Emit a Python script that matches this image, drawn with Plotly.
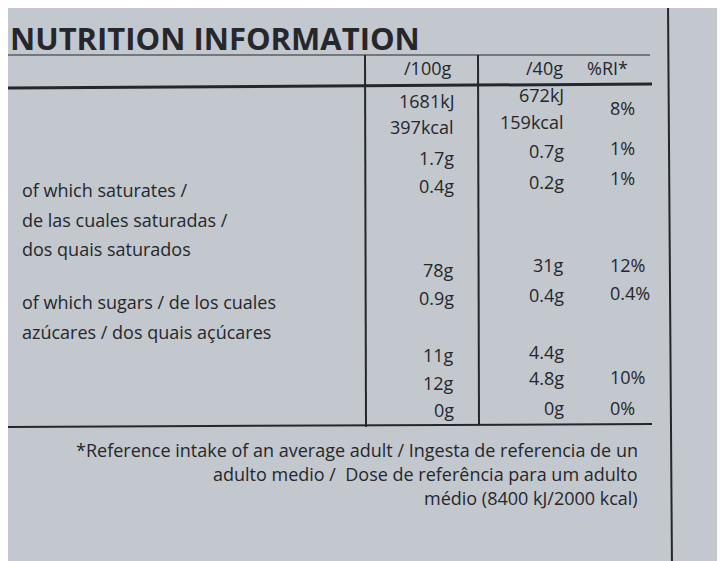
import plotly.graph_objects as go

title = "NUTRITION INFORMATION"
headers = ["/100g", "/40g", "%RI*"]
labels = ["Energy / Valor energético /", "Energia", "Fat / Grasas / Lípidos",
          "  of which saturates /", "  de las cuales saturadas /", "  dos quais saturados",
          "Carbohydrate / Hidratos de carbono", "  of which sugars / de los cuales",
          "  azúcares / dos quais açúcares", "Fibre / Fibra alimentaria / Fibra",
          "Protein / Proteínas", "Salt / Sal"]
per100 = ["1681kJ", "397kcal", "1.7g", "0.4g", "", "", "78g", "0.9g", "", "11g", "12g", "0g"]
per40 = ["672kJ", "159kcal", "0.7g", "0.2g", "", "", "31g", "0.4g", "", "4.4g", "4.8g", "0g"]
ri = ["8%", "", "1%", "1%", "", "", "12%", "0.4%", "", "", "10%", "0%"]
footnote = ["*Reference intake of an average adult / Ingesta de referencia de un",
            "adulto medio /  Dose de referência para um adulto",
            "médio (8400 kJ/2000 kcal)"]

# layout positions (pixels, y down)
label_y = [105, 132, 162, 190, 220, 249, 276, 302, 332, 360, 389, 416]
val100_y = [101, 127, 158, 186, 0, 0, 270, 298, 0, 355, 383, 410]
val40_y = [95, 122, 151, 182, 0, 0, 265, 295, 0, 352, 378, 408]
ri_y = [108, 0, 148, 178, 0, 0, 265, 293, 0, 0, 377, 408]

ink = "#26272c"
font = dict(family="Open Sans", size=18, color=ink)
fig = go.Figure()
ann = [dict(x=8, y=38, text="<b>" + title + "</b>", xanchor="left",
            font=dict(family="Open Sans", size=31, color=ink))]
for t, x in zip(headers, [453, 565, 630]):
    ann.append(dict(x=x, y=68, text=t, xanchor="right", font=font))
for i, t in enumerate(labels):
    ann.append(dict(x=6 + (14 if t.startswith("  ") else 0), y=label_y[i], text=t.strip(),
                    xanchor="left", font=font))
    if per100[i]:
        ann.append(dict(x=456, y=val100_y[i], text=per100[i], xanchor="right", font=font))
    if per40[i]:
        ann.append(dict(x=566, y=val40_y[i], text=per40[i], xanchor="right", font=font))
    if ri[i]:
        ann.append(dict(x=608, y=ri_y[i], text=ri[i], xanchor="left", font=font))
for t, y in zip(footnote, [450, 474, 498]):
    ann.append(dict(x=640, y=y, text=t, xanchor="right", font=font))
for a in ann:
    a.update(xref="x", yref="y", showarrow=False, yanchor="middle")

line = dict(color=ink, width=2)
shapes = [
    dict(type="line", x0=0, x1=668, y0=5, y1=3, line=line),
    dict(type="line", x0=668, x1=672, y0=3, y1=570, line=line),
    dict(type="line", x0=0, x1=650, y0=55, y1=55, line=dict(color=ink, width=1)),
    dict(type="line", x0=0, x1=652, y0=88, y1=84, line=dict(color=ink, width=3)),
    dict(type="line", x0=0, x1=652, y0=427, y1=424, line=line),
    dict(type="line", x0=365, x1=366, y0=55, y1=427, line=line),
    dict(type="line", x0=478, x1=479, y0=55, y1=425, line=line),
]
for s in shapes:
    s.update(xref="x", yref="y", layer="below")

# page adds ~8px offset; shift the visible window to compensate
fig.update_layout(width=725, height=561, margin=dict(l=0, r=0, t=0, b=0),
                  paper_bgcolor="#c2c8cd", plot_bgcolor="#c2c8cd",
                  annotations=ann, shapes=shapes, showlegend=False,
                  xaxis=dict(range=[8, 733], visible=False, fixedrange=True),
                  yaxis=dict(range=[569, 8], visible=False, fixedrange=True))
fig.write_html("out.html")
